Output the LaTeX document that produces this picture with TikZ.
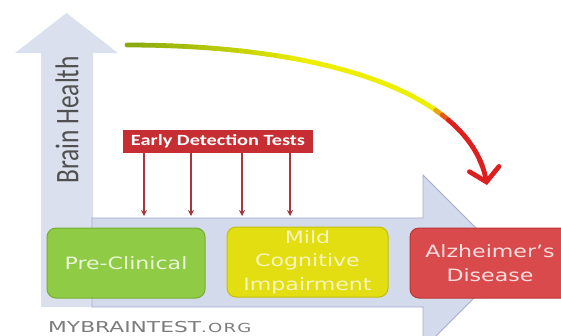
\documentclass[tikz,border=0pt]{standalone}
\usepackage{fontspec}
\newfontfamily\dvw[FakeStretch=1.3]{DejaVu Sans}
\newfontfamily\dvx[FakeStretch=1.45]{DejaVu Sans}
\newfontfamily\dvo[FakeStretch=1.45,LetterSpace=10]{DejaVu Sans}
\newfontfamily\cbw[FakeStretch=1.3]{Carlito}
\newfontfamily\cbn[FakeStretch=0.77]{Carlito}
\usetikzlibrary{arrows.meta}
\definecolor{arrowfill}{HTML}{D3DAEB}
\definecolor{vshaft}{HTML}{DAE0EE}
\definecolor{arrowline}{HTML}{A4AECF}
\definecolor{pcgreen}{HTML}{8FCB45}
\definecolor{pcgreenD}{HTML}{76AE35}
\definecolor{pctext}{HTML}{EAF6D8}
\definecolor{mciyel}{HTML}{E2DE12}
\definecolor{mciyelD}{HTML}{C4BF0A}
\definecolor{mcitext}{HTML}{F7F5BC}
\definecolor{adred}{HTML}{D94A4C}
\definecolor{adredD}{HTML}{BB3638}
\definecolor{adtext}{HTML}{FADEDE}
\definecolor{edtred}{HTML}{C62E33}
\definecolor{tickc}{HTML}{A4383C}
\definecolor{cgreen}{HTML}{8AAA10}
\definecolor{cyellow}{HTML}{EEEE00}
\definecolor{cred}{HTML}{DD1F1F}
\definecolor{bhgray}{HTML}{505050}
\definecolor{logogray}{HTML}{7C7C7C}
\begin{document}
\begin{tikzpicture}[x=1pt,y=-1pt,
  stagebox/.style={rectangle, rounded corners=9pt, line width=1pt, minimum height=70pt,
    align=center, font=\dvw\fontsize{17}{23.5}\selectfont, inner sep=2pt},
  tickarrow/.style={draw=tickc, line width=1.1pt, -{Stealth[length=6pt,width=6pt]}},
  curveseg/.style={line width=4.8pt, line cap=round}]
\useasboundingbox (0,0) rectangle (561,335);
\clip (0,0) rectangle (561,335);
% vertical arrow (Brain Health axis)
\fill[vshaft] (41,307) -- (41,53) -- (15,53) -- (66.5,13) -- (118,53) -- (93,53) -- (93,307) -- cycle;
% horizontal arrow (time axis)
\filldraw[fill=arrowfill, draw=arrowline, line width=0.8pt]
  (92,218) -- (423,218) -- (423,175) -- (510,262) -- (423,349) -- (423,307) -- (92,307) -- cycle;
\node[rotate=90, text=bhgray, font=\cbn\fontsize{33}{33}\selectfont] (bh) at (67,120) {Brain Health};
% stages
\node[stagebox, fill=pcgreen, draw=pcgreenD, text=pctext, minimum width=158pt] (pc) at (126,263) {Pre-Clinical};
\node[stagebox, fill=mciyel, draw=mciyelD, text=mcitext, minimum width=161pt] (mci) at (307.5,262) {Mild\\Cognitive\\Impairment};
\node[stagebox, fill=adred, draw=adredD, text=adtext, minimum width=160pt] (ad) at (490,263) {Alzheimer’s\\Disease};
% early detection tests
\node[rectangle, fill=edtred, text=white, minimum width=190pt, minimum height=23pt, inner sep=0pt,
  font=\cbw\bfseries\fontsize{15.6}{15.6}\selectfont] (edt) at (218,141.5) {Early Detection Tests};
\coordinate (t1) at (144,216);
\coordinate (t2) at (191,216);
\coordinate (t3) at (242,216);
\coordinate (t4) at (290,216);
\foreach \k in {1,2,3,4}{ \draw[tickarrow] (edt.south -| t\k) -- (t\k); }
% health decline curve
\foreach \i in {0,...,40}{
  \pgfmathsetmacro\tt{\i/40}
  \pgfmathsetmacro\uu{1-\tt}
  \pgfmathsetmacro\bx{\uu*\uu*\uu*127+3*\uu*\uu*\tt*330+3*\uu*\tt*\tt*475+\tt*\tt*\tt*487}
  \pgfmathsetmacro\by{\uu*\uu*\uu*45+3*\uu*\uu*\tt*45+3*\uu*\tt*\tt*95+\tt*\tt*\tt*185}
  \coordinate (q\i) at (\bx,\by);
}
\foreach \i in {0,...,36}{
  \pgfmathtruncatemacro\j{\i+1}
  \pgfmathsetmacro\tt{\i/40}
  \pgfmathsetmacro\gy{max(0,100*(1-\tt/0.32))}
  \pgfmathsetmacro\rp{min(100,max(0,100*(\tt-0.65)/0.07))}
  \colorlet{tmpc}{cgreen!\gy!cyellow}
  \colorlet{segc}{cred!\rp!tmpc}
  \draw[curveseg, segc] (q\i) -- (q\j);
}
\draw[cred, line width=4.8pt, line cap=round, line join=round,
  -{Straight Barb[length=13pt,width=30pt,line cap=round]}] (q36) -- (q37) -- (q38) -- (q39) -- (q40);
% logo
\node[anchor=base west, inner sep=0pt, text=logogray] (logo) at (48,332)
  {\dvx\fontsize{15}{15}\selectfont MYBRAINTEST\dvo\fontsize{12.5}{12.5}\selectfont.ORG};
\end{tikzpicture}
\end{document}
